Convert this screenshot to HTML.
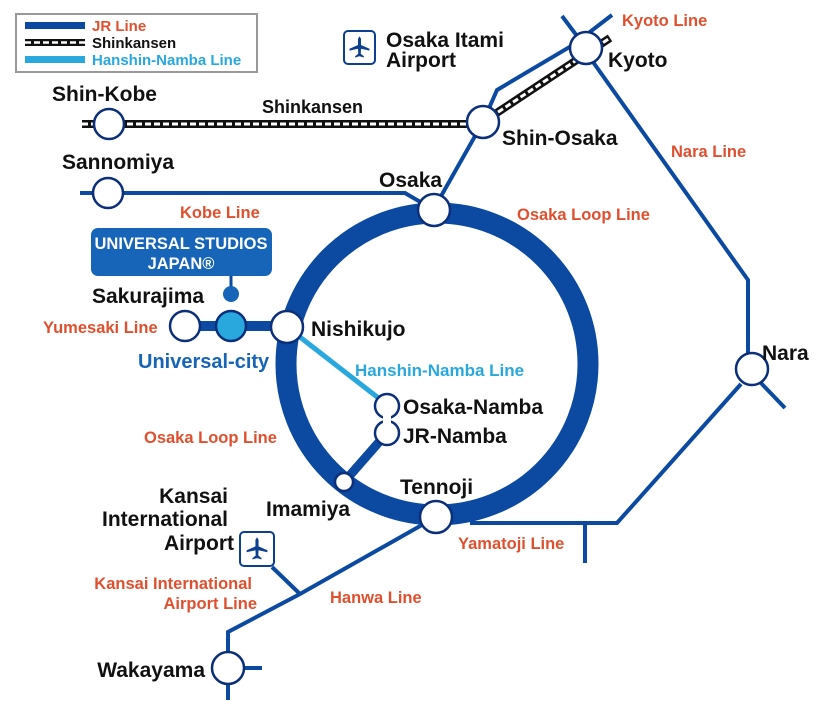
<!DOCTYPE html>
<html><head><meta charset="utf-8"><style>
html,body{margin:0;padding:0;background:#fff;}
svg{display:block;}
text{font-family:"Liberation Sans",Arial,sans-serif;font-weight:bold;}
.st{font-size:21px;fill:#111;}
.rd{font-size:16.5px;fill:#e0502f;}
</style></head><body>
<svg width="827" height="717" viewBox="0 0 827 717" xmlns="http://www.w3.org/2000/svg">
<defs>
<symbol id="plane" viewBox="0 0 20 20">
<path d="M10 1 L11.2 3 L11.2 8 L18 11 L18 12.5 L11.2 11 L11 15 L13.5 17 L13.5 18 L10 17 L6.5 18 L6.5 17 L9 15 L8.8 11 L2 12.5 L2 11 L8.8 8 L8.8 3 Z" fill="#0b3f8f"/>
</symbol>
</defs>
<g fill="none" stroke="#0b4aa0" stroke-width="4" stroke-linecap="butt" stroke-linejoin="miter">
<polyline points="80,193 405,193 434,210"/>
<polyline points="440,198 483,122 497,90 573,45 612,15"/>
<line x1="562" y1="16" x2="586" y2="48"/>
<polyline points="593,62 748,280 748,358"/>
<line x1="760" y1="382" x2="785" y2="408"/>
<polyline points="741,384 617,523 470,523"/>
<line x1="585" y1="523" x2="585" y2="563"/>
<polyline points="436,517 300,594 228,632 228,700"/>
<line x1="240" y1="668" x2="262" y2="668"/>
<line x1="300" y1="594" x2="272" y2="567"/>
</g>
<g stroke-linecap="butt">
<line x1="82" y1="124" x2="483" y2="124" stroke="#111" stroke-width="8"/>
<line x1="82" y1="124" x2="483" y2="124" stroke="#fff" stroke-width="3" stroke-dasharray="6,3"/>
<line x1="483" y1="122" x2="610" y2="38" stroke="#111" stroke-width="8"/>
<line x1="483" y1="122" x2="610" y2="38" stroke="#fff" stroke-width="3" stroke-dasharray="6,3"/>
</g>
<circle cx="437" cy="364" r="151" fill="none" stroke="#0b4aa0" stroke-width="21"/>
<line x1="287" y1="327" x2="381" y2="400" stroke="#29a8dd" stroke-width="5"/>
<line x1="185" y1="326" x2="287" y2="326" stroke="#0b4aa0" stroke-width="10"/>
<line x1="344" y1="482" x2="387" y2="433" stroke="#0b4aa0" stroke-width="9"/>
<line x1="231" y1="276" x2="231" y2="293" stroke="#0b4aa0" stroke-width="3"/>
<rect x="91" y="228" width="181" height="48" rx="7" fill="#1765b8"/>
<text x="181" y="249" text-anchor="middle" font-size="16.5" fill="#fff">UNIVERSAL STUDIOS</text>
<text x="181" y="269" text-anchor="middle" font-size="16.5" fill="#fff">JAPAN®</text>
<g fill="#fff" stroke="#0b2f7a" stroke-width="2.5">
<circle cx="109" cy="124" r="15"/>
<circle cx="108" cy="193" r="15"/>
<circle cx="434" cy="210" r="16"/>
<circle cx="483" cy="122" r="16"/>
<circle cx="586" cy="48" r="16"/>
<circle cx="287" cy="327" r="16"/>
<circle cx="185" cy="326" r="15"/>
<circle cx="231" cy="326" r="15" fill="#29a8dd"/>
<circle cx="752" cy="369" r="16"/>
<circle cx="436" cy="517" r="16"/>
<circle cx="228" cy="668" r="16"/>
<circle cx="344" cy="482" r="9"/>
<circle cx="387" cy="406" r="12"/>
<circle cx="387" cy="433" r="12"/>
</g>
<circle cx="231" cy="294" r="8" fill="#1765b8"/>
<rect x="383" y="415" width="8" height="8" fill="#fff"/>
<rect x="344" y="31" width="31" height="33" rx="4" fill="#fff" stroke="#0b3f8f" stroke-width="2"/>
<use href="#plane" x="347" y="35" width="25" height="25"/>
<rect x="240" y="532" width="34" height="34" rx="4" fill="#fff" stroke="#0b3f8f" stroke-width="2"/>
<use href="#plane" x="244" y="536" width="26" height="26"/>
<rect x="16" y="14" width="241" height="58" fill="#fff" stroke="#999" stroke-width="2"/>
<rect x="25" y="22" width="60" height="7" fill="#0b4aa0"/>
<rect x="25" y="39" width="60" height="7" fill="#111"/>
<line x1="25" y1="42.5" x2="85" y2="42.5" stroke="#fff" stroke-width="2.5" stroke-dasharray="6,3"/>
<rect x="25" y="56" width="60" height="7" fill="#29a8dd"/>
<text x="92" y="31" font-size="15" fill="#e0502f">JR Line</text>
<text x="92" y="48" font-size="15" fill="#111">Shinkansen</text>
<text x="92" y="65" font-size="15" fill="#29a8dd">Hanshin-Namba Line</text>
<text class="st" x="52" y="101">Shin-Kobe</text>
<text class="st" x="62" y="169">Sannomiya</text>
<text class="st" x="379" y="187">Osaka</text>
<text class="st" x="502" y="145">Shin-Osaka</text>
<text class="st" x="608" y="67">Kyoto</text>
<text class="st" x="386" y="47">Osaka Itami</text>
<text class="st" x="386" y="67">Airport</text>
<text class="st" x="92" y="303">Sakurajima</text>
<text class="st" x="311" y="336">Nishikujo</text>
<text x="138" y="368" font-size="20" fill="#1765b8">Universal-city</text>
<text class="st" x="403" y="414">Osaka-Namba</text>
<text class="st" x="403" y="443">JR-Namba</text>
<text class="st" x="400" y="494">Tennoji</text>
<text class="st" x="266" y="516">Imamiya</text>
<text class="st" x="762" y="360">Nara</text>
<text class="st" x="228" y="503" text-anchor="end">Kansai</text>
<text class="st" x="228" y="526" text-anchor="end">International</text>
<text class="st" x="234" y="550" text-anchor="end">Airport</text>
<text class="st" x="205" y="677" text-anchor="end">Wakayama</text>
<text x="262" y="113" font-size="18" fill="#111">Shinkansen</text>
<text class="rd" x="622" y="26">Kyoto Line</text>
<text class="rd" x="671" y="157">Nara Line</text>
<text class="rd" x="517" y="220">Osaka Loop Line</text>
<text class="rd" x="180" y="218">Kobe Line</text>
<text class="rd" x="43" y="333">Yumesaki Line</text>
<text x="355" y="376" font-size="17" fill="#29a8dd">Hanshin-Namba Line</text>
<text class="rd" x="144" y="443">Osaka Loop Line</text>
<text class="rd" x="458" y="549">Yamatoji Line</text>
<text class="rd" x="330" y="603">Hanwa Line</text>
<text class="rd" x="252" y="589" text-anchor="end">Kansai International</text>
<text class="rd" x="257" y="609" text-anchor="end">Airport Line</text>
</svg>
</body></html>
